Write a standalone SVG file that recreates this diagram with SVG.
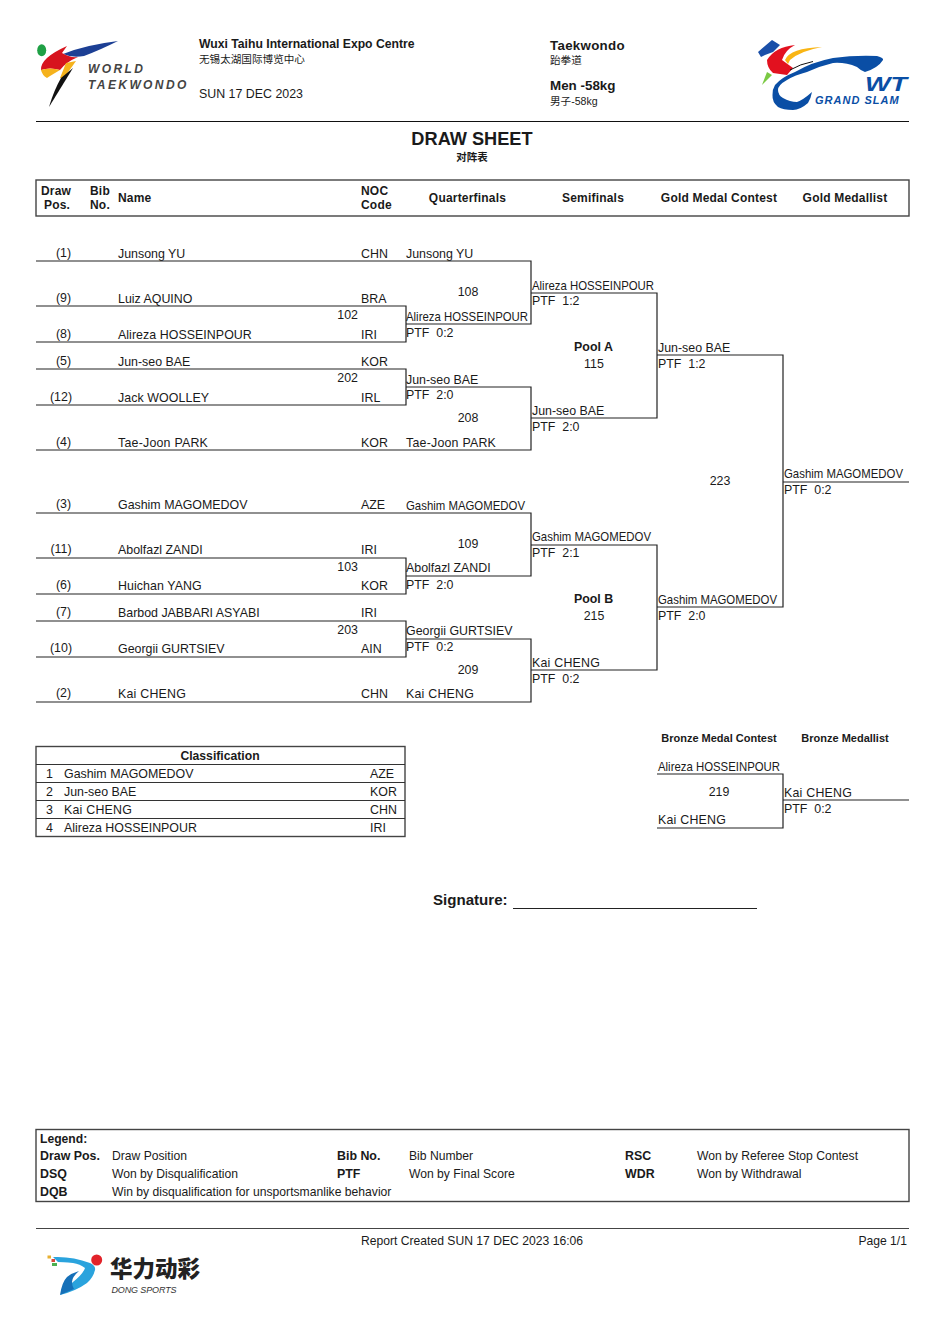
<svg xmlns="http://www.w3.org/2000/svg" width="945" height="1336" viewBox="0 0 945 1336">
<style>
text{font-family:"Liberation Sans",Arial,"Noto Sans CJK SC",sans-serif;font-size:12.4px;fill:#1a1a1a;white-space:pre}
.b{font-weight:700}
.c{text-anchor:middle}
.h{font-size:12px;font-weight:700;letter-spacing:.2px}
.s{font-size:10.6px}
.m{font-size:11px;font-weight:700}
.l{font-size:12.15px}
.k{letter-spacing:.22px}
.ln{fill:none;stroke:#222;stroke-width:1.2}
.bx{fill:none;stroke:#444;stroke-width:1.4}
</style>
<rect width="945" height="1336" fill="#fff"/>
<g id="logo-wt">
<ellipse cx="41.700" cy="50.300" rx="4.500" ry="6" fill="#1fa045"/>
<path d="M63 54Q85 45 118 41Q100 50 84 56Q72 58 63 54Z" fill="#1c3f94"/>
<path d="M67 46L62 53Q70 58 78 57Q66 62 60 70Q50 67 41 70Q40 58 67 46Z" fill="#d7141e"/>
<path d="M41 70Q50 67 60 70L50 76L47 78Q42 75 41 70Z" fill="#f5b21c"/>
<path d="M66 63L76 61L64 78H60Z" fill="#f5b21c"/>
<path d="M73 68L49 107Q54 90 61 78Z" fill="#111"/>
<text x="88" y="73" font-style="italic" class="b" style="font-size:12px;letter-spacing:2.400px;fill:#444">WORLD</text>
<text x="88" y="89" font-style="italic" class="b" style="font-size:12px;letter-spacing:2.400px;fill:#444">TAEKWONDO</text>
</g>
<g id="header-venue">
<text x="199" y="48" class="b" style="font-size:12.200px">Wuxi Taihu International Expo Centre</text>
<text x="199" y="63" class="s">无锡太湖国际博览中心</text>
<text x="199" y="98">SUN 17 DEC 2023</text>
</g>
<g id="header-event">
<text x="550" y="50" class="b" style="font-size:13.300px;letter-spacing:.3px">Taekwondo</text>
<text x="550" y="64" class="s">跆拳道</text>
<text x="550" y="90" class="b" style="font-size:13.400px">Men -58kg</text>
<text x="550" y="105" class="s">男子-58kg</text>
</g>
<g id="logo-grand-slam">
<path d="M758 52L772 40L780 45L773 52L765 55L761 57Z" fill="#1a4fa8"/>
<path d="M767 60Q775 47 795 45Q785 50 782 60L793 68L787 75L773 73Q767 68 767 60Z" fill="#e2111f"/>
<path d="M785 60Q790 48 822 47Q800 51 790 60L788 64Z" fill="#f9b514"/>
<path d="M762 85L767 72L772 75Z" fill="#7ac943"/>
<path d="M790 70Q800 64 813 61.500" stroke="#111" stroke-width="1" fill="none"/>
<path d="M795 72Q812 62 833 58Q855 55 877 56Q884 58 883 60Q878 68 865 72Q860 70 857 67Q845 62 833 63Q820 66 807 72Q795 75 787 80Q778 85 778 90Q778 95 783 98Q790 102 797 102Q803 100 812 92Q811 98 808 103Q800 110 793 110Q783 110 778 107Q772 102 772.500 95Q772 90 775 85Q782 77 795 72Z" fill="#0a4ea5"/>
<text x="865" y="91" class="b" font-style="italic" textLength="42" lengthAdjust="spacingAndGlyphs" style="font-size:20px;fill:#0a4ea5">WT</text>
<text x="815" y="104" class="b" font-style="italic" style="font-size:11px;letter-spacing:1px;fill:#0a4ea5">GRAND SLAM</text>
</g>
<line x1="36" y1="121.500" x2="909" y2="121.500" stroke="#111" stroke-width="1.100"/>
<g id="title">
<text x="472" y="145" class="b c" style="font-size:18.200px">DRAW SHEET</text>
<text x="472" y="161" class="b c" style="font-size:10.500px">对阵表</text>
</g>
<g id="table-header">
<rect x="36" y="180" width="873" height="36" class="bx"/>
<text x="41" y="195" class="h">Draw</text>
<text x="44" y="209" class="h">Pos.</text>
<text x="90" y="195" class="h">Bib</text>
<text x="90" y="209" class="h">No.</text>
<text x="118" y="202" class="h">Name</text>
<text x="361" y="195" class="h">NOC</text>
<text x="361" y="209" class="h">Code</text>
<text x="467.500" y="202" class="h c">Quarterfinals</text>
<text x="593" y="202" class="h c">Semifinals</text>
<text x="719" y="202" class="h c">Gold Medal Contest</text>
<text x="845" y="202" class="h c">Gold Medallist</text>
</g>
<g id="connectors">
<path class="ln" d="M36 261H531V324H406M36 306H406V342H36M36 369H406V405H36M406 387H531V450H36"/>
<path class="ln" d="M531 293H657V418H531M657 355H783V607H657M783 482H909"/>
<path class="ln" d="M36 513H531V576H406M36 558H406V594H36M36 621H406V657H36M406 639H531V702H36"/>
<path class="ln" d="M531 545H657V670H531"/>
<path class="ln" d="M657 774H783V828H657M783 800H909"/>
</g>
<g id="entries-pool-a">
<text x="63.500" y="257" class="c">(1)</text><text x="118" y="258">Junsong YU</text><text x="361" y="258">CHN</text>
<text x="63.500" y="302" class="c">(9)</text><text x="118" y="303">Luiz AQUINO</text><text x="361" y="303">BRA</text>
<text x="63.500" y="338" class="c">(8)</text><text x="118" y="339" style="letter-spacing:.05px">Alireza HOSSEINPOUR</text><text x="361" y="339">IRI</text>
<text x="63.500" y="365" class="c">(5)</text><text x="118" y="366">Jun-seo BAE</text><text x="361" y="366">KOR</text>
<text x="61" y="401" class="c">(12)</text><text x="118" y="402" style="letter-spacing:.08px">Jack WOOLLEY</text><text x="361" y="402">IRL</text>
<text x="63.500" y="446" class="c">(4)</text><text x="118" y="447" class="k">Tae-Joon PARK</text><text x="361" y="447">KOR</text>
</g>
<g id="entries-pool-b">
<text x="63.500" y="508" class="c">(3)</text><text x="118" y="509">Gashim MAGOMEDOV</text><text x="361" y="509">AZE</text>
<text x="61" y="553" class="c">(11)</text><text x="118" y="554">Abolfazl ZANDI</text><text x="361" y="554">IRI</text>
<text x="63.500" y="589" class="c">(6)</text><text x="118" y="590" style="letter-spacing:.08px">Huichan YANG</text><text x="361" y="590">KOR</text>
<text x="63.500" y="616" class="c">(7)</text><text x="118" y="617">Barbod JABBARI ASYABI</text><text x="361" y="617">IRI</text>
<text x="61" y="652" class="c">(10)</text><text x="118" y="653">Georgii GURTSIEV</text><text x="361" y="653">AIN</text>
<text x="63.500" y="697" class="c">(2)</text><text x="118" y="698" class="k">Kai CHENG</text><text x="361" y="698">CHN</text>
</g>
<g id="quarterfinals">
<text x="358" y="319" text-anchor="end">102</text><text x="358" y="382" text-anchor="end">202</text>
<text x="358" y="571" text-anchor="end">103</text><text x="358" y="634" text-anchor="end">203</text>
<text x="406" y="258">Junsong YU</text>
<text x="406" y="321" textLength="122" lengthAdjust="spacingAndGlyphs">Alireza HOSSEINPOUR</text><text x="406" y="337">PTF  0:2</text>
<text x="406" y="384">Jun-seo BAE</text><text x="406" y="399">PTF  2:0</text>
<text x="406" y="447" class="k">Tae-Joon PARK</text>
<text x="406" y="510" textLength="119" lengthAdjust="spacingAndGlyphs">Gashim MAGOMEDOV</text>
<text x="406" y="572">Abolfazl ZANDI</text><text x="406" y="589">PTF  2:0</text>
<text x="406" y="635">Georgii GURTSIEV</text><text x="406" y="651">PTF  0:2</text>
<text x="406" y="698" class="k">Kai CHENG</text>
<text x="468" y="296" class="c">108</text><text x="468" y="422" class="c">208</text>
<text x="468" y="548" class="c">109</text><text x="468" y="674" class="c">209</text>
</g>
<g id="semifinals">
<text x="532" y="290" textLength="122" lengthAdjust="spacingAndGlyphs">Alireza HOSSEINPOUR</text><text x="532" y="305">PTF  1:2</text>
<text x="532" y="415">Jun-seo BAE</text><text x="532" y="431">PTF  2:0</text>
<text x="532" y="541" textLength="119" lengthAdjust="spacingAndGlyphs">Gashim MAGOMEDOV</text><text x="532" y="557">PTF  2:1</text>
<text x="532" y="667" class="k">Kai CHENG</text><text x="532" y="683">PTF  0:2</text>
<text x="593.500" y="351" class="c b">Pool A</text><text x="594" y="368" class="c">115</text>
<text x="593.500" y="603" class="c b">Pool B</text><text x="594" y="620" class="c">215</text>
</g>
<g id="gold-contest">
<text x="658" y="352">Jun-seo BAE</text><text x="658" y="368">PTF  1:2</text>
<text x="658" y="604" textLength="119" lengthAdjust="spacingAndGlyphs">Gashim MAGOMEDOV</text><text x="658" y="620">PTF  2:0</text>
<text x="720" y="485" class="c">223</text>
<text x="784" y="478" textLength="119" lengthAdjust="spacingAndGlyphs">Gashim MAGOMEDOV</text><text x="784" y="494">PTF  0:2</text>
</g>
<g id="bronze-contest">
<text x="719" y="742" class="m c">Bronze Medal Contest</text>
<text x="845" y="742" class="m c">Bronze Medallist</text>
<text x="658" y="771" textLength="122" lengthAdjust="spacingAndGlyphs">Alireza HOSSEINPOUR</text>
<text x="719" y="796" class="c">219</text>
<text x="658" y="824" class="k">Kai CHENG</text>
<text x="784" y="797" class="k">Kai CHENG</text><text x="784" y="813">PTF  0:2</text>
</g>
<g id="classification">
<rect x="36" y="746.500" width="369" height="90" class="bx"/>
<path d="M36 764.500H405M36 782.500H405M36 800.500H405M36 818.500H405" stroke="#333" stroke-width="1"/>
<text x="220" y="760" class="b c" style="font-size:12.200px">Classification</text>
<text x="46" y="778">1</text><text x="64" y="778">Gashim MAGOMEDOV</text><text x="370" y="778">AZE</text>
<text x="46" y="796">2</text><text x="64" y="796">Jun-seo BAE</text><text x="370" y="796">KOR</text>
<text x="46" y="814">3</text><text x="64" y="814" class="k">Kai CHENG</text><text x="370" y="814">CHN</text>
<text x="46" y="832">4</text><text x="64" y="832">Alireza HOSSEINPOUR</text><text x="370" y="832">IRI</text>
</g>
<g id="signature">
<text x="433" y="905" class="b" style="font-size:15.100px">Signature:</text>
<line x1="513" y1="908.500" x2="757" y2="908.500" stroke="#222" stroke-width="1"/>
</g>
<g id="legend">
<rect x="36" y="1129.500" width="873" height="72" class="bx"/>
<text x="40" y="1143" class="b l">Legend:</text>
<text x="40" y="1160" class="b">Draw Pos.</text><text x="112" y="1160" class="l">Draw Position</text>
<text x="337" y="1160" class="b">Bib No.</text><text x="409" y="1160" class="l">Bib Number</text>
<text x="625" y="1160" class="b">RSC</text><text x="697" y="1160" class="l">Won by Referee Stop Contest</text>
<text x="40" y="1178" class="b">DSQ</text><text x="112" y="1178" class="l">Won by Disqualification</text>
<text x="337" y="1178" class="b">PTF</text><text x="409" y="1178" class="l">Won by Final Score</text>
<text x="625" y="1178" class="b">WDR</text><text x="697" y="1178" class="l">Won by Withdrawal</text>
<text x="40" y="1196" class="b">DQB</text><text x="112" y="1196" class="l">Win by disqualification for unsportsmanlike behavior</text>
</g>
<g id="footer">
<line x1="36" y1="1228.500" x2="909" y2="1228.500" stroke="#444" stroke-width="1.200"/>
<text x="472" y="1245" class="c l">Report Created SUN 17 DEC 2023 16:06</text>
<text x="907" y="1245" text-anchor="end" class="l">Page 1/1</text>
</g>
<g id="logo-dong-sports">
<path d="M53 1257Q72 1256 90 1263Q96 1266 95 1270Q93 1278 87 1283Q76 1291 60 1295Q68 1287 73 1282Q83 1274 85 1268Q80 1264 73 1263Q62 1262 58 1262Z" fill="#2aa3dd"/>
<path d="M60 1295Q62 1282 67 1277Q72 1273 79 1271Q72 1277 72 1282Q72 1286 74 1289Z" fill="#1670b8"/>
<circle cx="96.700" cy="1260" r="5.500" fill="#e2232a"/>
<rect x="47.500" y="1255.500" width="3.500" height="3" fill="#e8b030"/>
<rect x="51.500" y="1259" width="3.500" height="3" fill="#d9453a"/>
<rect x="52" y="1263" width="5" height="3" fill="#4caf50"/>
<text x="110" y="1277" class="b" style="font-size:22.500px;font-weight:900;fill:#222">华力动彩</text>
<text x="111.500" y="1292.500" font-style="italic" textLength="65" lengthAdjust="spacing" style="font-size:9px;fill:#333">DONG SPORTS</text>
</g>
</svg>
